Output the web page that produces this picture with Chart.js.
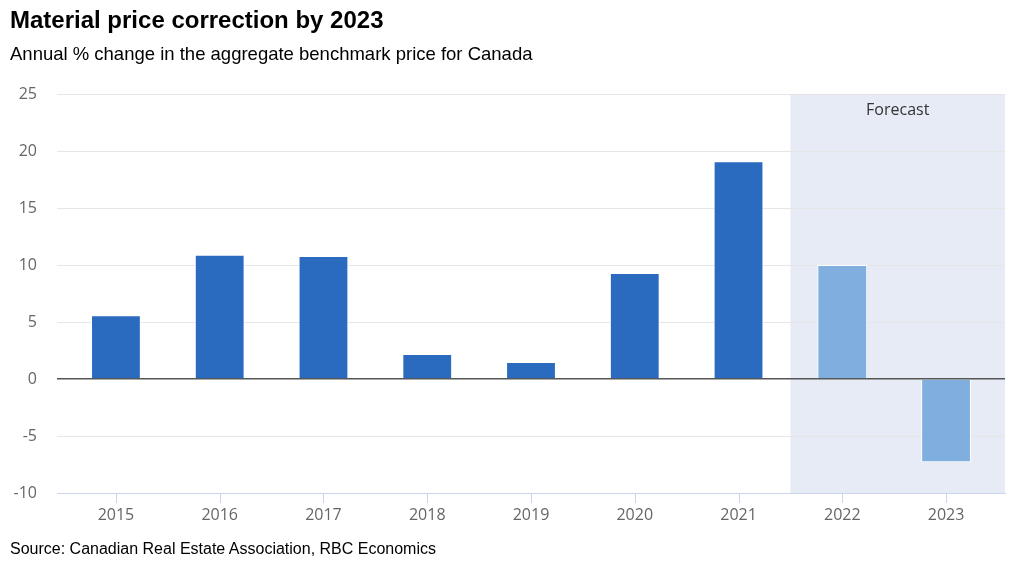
<!DOCTYPE html>
<html>
<head>
<meta charset="utf-8">
<script src="https://cdn.jsdelivr.net/npm/chart.js@4"></script>
<style>
  html, body { margin: 0; padding: 0; background: #fff; }
  #wrap { position: relative; width: 1024px; height: 567px; overflow: hidden; }
  canvas { position: absolute; left: 0; top: 0; }
  .txt { position: absolute; left: 10px; white-space: nowrap; color: #000; font-family: "Liberation Sans", Arial, sans-serif; }
  #title { top: 6px; font-size: 24px; font-weight: bold; }
  #subtitle { top: 43px; font-size: 18.5px; }
  #source { top: 540px; font-size: 16px; }
</style>
</head>
<body>
<div id="wrap">
  <canvas id="c" width="1024" height="567"></canvas>
  <div class="txt" id="title">Material price correction by 2023</div>
  <div class="txt" id="subtitle">Annual % change in the aggregate benchmark price for Canada</div>
  <div class="txt" id="source">Source: Canadian Real Estate Association, RBC Economics</div>
</div>
<script>
const categories = ["2015", "2016", "2017", "2018", "2019", "2020", "2021", "2022", "2023"];
const values = [5.6, 10.9, 10.8, 2.2, 1.5, 9.3, 19.1, 10.0, -7.3];
const forecastFrom = "2022";
const forecastLabel = "Forecast";
const yMin = -10, yMax = 25, yStep = 5;

const forecastIdx = categories.indexOf(forecastFrom);
const actualColor = "#2a6abf";
const forecastColor = "#80afdf";
const edgePad = 0.568;

const forecastBand = {
  id: "forecastBand",
  beforeDraw(chart) {
    const { ctx, chartArea, scales } = chart;
    const x0 = scales.x.getPixelForValue(forecastIdx - 0.5);
    ctx.save();
    ctx.fillStyle = "#e6ebf5";
    ctx.fillRect(x0, chartArea.top, chartArea.right - x0, chartArea.bottom - chartArea.top);
    ctx.fillStyle = "#333333";
    ctx.font = "16px 'Open Sans', sans-serif";
    ctx.textAlign = "center";
    ctx.textBaseline = "middle";
    ctx.fillText(forecastLabel, (x0 + chartArea.right) / 2, chartArea.top + 16);
    ctx.restore();
  },
  afterDraw(chart) {
    const { ctx, chartArea, scales } = chart;
    const xs = scales.x;
    ctx.save();
    ctx.strokeStyle = "#ccd6eb";
    ctx.lineWidth = 1;
    ctx.beginPath();
    for (let i = 0; i < xs.ticks.length; i++) {
      const px = Math.round(xs.getPixelForTick(i)) + 0.5;
      ctx.moveTo(px, chartArea.bottom);
      ctx.lineTo(px, chartArea.bottom + 10);
    }
    ctx.stroke();
    ctx.restore();
  }
};

new Chart(document.getElementById("c"), {
  type: "bar",
  data: {
    datasets: [{
      data: values.map((v, i) => ({ x: i, y: v })),
      backgroundColor: (c) => c.dataIndex >= forecastIdx ? forecastColor : actualColor,
      borderColor: "#ffffff",
      borderWidth: 1,
      categoryPercentage: 1,
      barPercentage: 0.48
    }]
  },
  options: {
    responsive: false,
    animation: false,
    devicePixelRatio: 1,
    layout: { padding: { top: 94, right: 19, left: 0, bottom: 0 } },
    plugins: { legend: { display: false }, tooltip: { enabled: false }, title: { display: false } },
    scales: {
      x: {
        type: "linear",
        min: -edgePad,
        max: categories.length - 1 + edgePad,
        offset: false,
        afterFit: (s) => { s.height = 74; },
        afterBuildTicks: (s) => { s.ticks = categories.map((_, i) => ({ value: i })); },
        grid: { display: false },
        border: { display: true, color: "#ccd6eb", width: 1 },
        ticks: {
          color: "#666666",
          font: { family: "'Open Sans', sans-serif", size: 16 },
          padding: 5,
          autoSkip: false,
          maxRotation: 0,
          callback: (v) => categories[v]
        }
      },
      y: {
        min: yMin, max: yMax,
        afterFit: (s) => { s.width = 57; },
        ticks: { stepSize: yStep, color: "#666666", font: { family: "'Open Sans', sans-serif", size: 16 }, padding: 20 },
        grid: {
          drawTicks: false,
          color: (c) => c.tick && c.tick.value === 0 ? "#555555" : "#e6e6e6",
          lineWidth: (c) => c.tick && c.tick.value === 0 ? 1.5 : 1
        },
        border: { display: false }
      }
    }
  },
  plugins: [forecastBand]
});
</script>
</body>
</html>
